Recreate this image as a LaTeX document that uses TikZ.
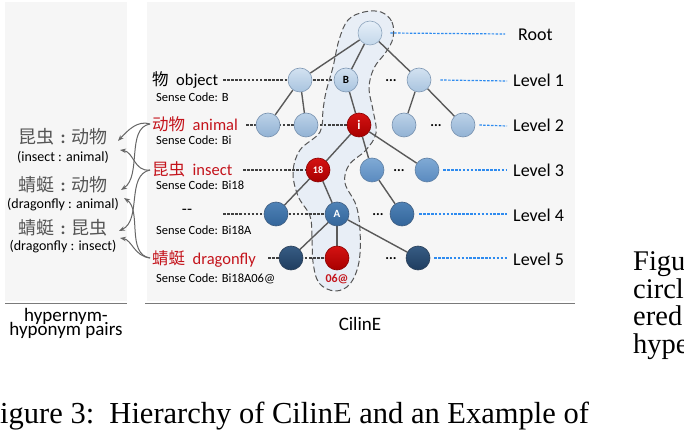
\documentclass[tikz,border=0pt]{standalone}
\usepackage{fontspec}
\setmainfont{Liberation Serif}
\newfontfamily\calfont{Carlito}
\newfontfamily\cjkfont{Noto Sans CJK SC}
\usetikzlibrary{arrows.meta}
\newcommand\fsz[1]{\fontsize{#1}{#1}\selectfont}
\pgfdeclarelayer{bgA}
\pgfdeclarelayer{bgB}
\pgfsetlayers{bgA,bgB,main}
\definecolor{panel}{HTML}{F6F6F6}
\definecolor{hl}{HTML}{E8EEF6}
\definecolor{hlline}{HTML}{555555}
\definecolor{edgec}{HTML}{5A5A5A}
\definecolor{dashk}{HTML}{404040}
\definecolor{dashb}{HTML}{2E8BEF}
\definecolor{redt}{HTML}{C4141C}
\definecolor{pairc}{HTML}{555555}
\definecolor{arrc}{HTML}{666666}
\definecolor{rulec}{HTML}{7A7A7A}
\definecolor{dA}{HTML}{8FA6BE}\definecolor{tA}{HTML}{E6EFF8}\definecolor{bA}{HTML}{C3D7EA}
\definecolor{dB}{HTML}{7F98B4}\definecolor{tB}{HTML}{D3E2F1}\definecolor{bB}{HTML}{A9C4DF}
\definecolor{dC}{HTML}{7690AE}\definecolor{tC}{HTML}{BCD2E8}\definecolor{bC}{HTML}{92B2D4}
\definecolor{dD}{HTML}{5E7FA3}\definecolor{tD}{HTML}{80AAD5}\definecolor{bD}{HTML}{5A8ABF}
\definecolor{dE}{HTML}{3D5C80}\definecolor{tE}{HTML}{4F82B6}\definecolor{bE}{HTML}{33659A}
\definecolor{dF}{HTML}{2A3F58}\definecolor{tF}{HTML}{375C84}\definecolor{bF}{HTML}{1F3D5F}
\definecolor{dR}{HTML}{8A0000}\definecolor{tR}{HTML}{D41212}\definecolor{bR}{HTML}{A80000}
\tikzset{
  tn/.style={circle, minimum size=24pt, inner sep=0pt, line width=0.6pt, font=\calfont\bfseries\fsz{11}},
  lvzero/.style={tn, draw=dA, top color=tA, bottom color=bA},
  lvone/.style={tn, draw=dB, top color=tB, bottom color=bB},
  lvtwo/.style={tn, draw=dC, top color=tC, bottom color=bC},
  lvthree/.style={tn, draw=dD, top color=tD, bottom color=bD},
  lvfour/.style={tn, draw=dE, top color=tE, bottom color=bE},
  lvfive/.style={tn, draw=dF, top color=tF, bottom color=bF},
  rednode/.style={tn, draw=dR, top color=tR, bottom color=bR, text=white},
  edge/.style={draw=edgec, line width=1.4pt},
  kdash/.style={draw=dashk, line width=1.1pt, dash pattern=on 2.5pt off 1.6pt},
  bdash/.style={draw=dashb, line width=1.2pt, dash pattern=on 2.5pt off 1.4pt},
  lab/.style={inner sep=0pt, font=\calfont\fsz{16.5}},
  sense/.style={inner sep=0pt, anchor=base west, font=\calfont\fsz{12.5}},
  lvl/.style={inner sep=0pt, anchor=base west, font=\calfont\fsz{18}},
  dots/.style={inner sep=0pt, font=\calfont\bfseries\fsz{14}},
  pairzh/.style={inner sep=0pt, text=pairc, font=\cjkfont\fsz{18}},
  pairen/.style={inner sep=0pt, text=black, font=\calfont\fsz{14}},
  parr/.style={draw=arrc, line width=1pt, -{Stealth[length=6pt,width=4.5pt]}},
  serif/.style={inner sep=0pt, anchor=base west, font=\rmfamily\fsz{28.5}}
}
\begin{document}
\begin{tikzpicture}[x=1pt,y=-1pt]
\useasboundingbox (0,0) rectangle (684,438);
\begin{pgfonlayer}{bgA}
\fill[white] (0,0) rectangle (684,438);
\fill[panel] (5,2) rectangle (127,301);
\fill[panel] (147,2) rectangle (575,301);
\draw[rulec, line width=1.6pt] (5,303.5) -- (127,303.5);
\draw[rulec, line width=1.6pt] (145,303.5) -- (575,303.5);
\draw[fill=hl, draw=hlline, line width=1pt, dash pattern=on 6pt off 3pt]
  plot[smooth cycle, tension=0.6] coordinates {(381,12) (392,22) (393,38) (386,52) (374,68) (369,88) (373,110) (376,133) (366,150) (349,165) (345,183) (356,205) (360,230) (359,262) (350,284) (335,291) (319,283) (313,262) (312,237) (310,216) (298,196) (293,172) (300,150) (320,132) (323,110) (326,92) (333,67) (339,40) (348,20) (364,12)};
\end{pgfonlayer}
% tree nodes
\node[lvzero] (root) at (370,33) {};
\node[lvone] (la) at (300,80) {};
\node[lvone] (lB) at (346,80) {B};
\node[lvone] (lc) at (419,80) {};
\node[lvtwo] (ma) at (268,125) {};
\node[lvtwo] (mb) at (306,125) {};
\node[rednode, font=\calfont\bfseries\fsz{13}] (mi) at (359,125) {i};
\node[lvtwo] (md) at (404,125) {};
\node[lvtwo] (me) at (463,125) {};
\node[rednode, font=\calfont\bfseries\fsz{10}] (n18) at (318,170) {18};
\node[lvthree] (nb) at (372,170) {};
\node[lvthree] (nc) at (427,170) {};
\node[lvfour] (oa) at (276,214) {};
\node[lvfour, text=white] (oA) at (337,214) {A};
\node[lvfour] (oc) at (402,214) {};
\node[lvfive] (pa) at (291,258) {};
\node[rednode] (pr) at (337,258) {};
\node[lvfive] (pc) at (418,258) {};
\node[inner sep=0pt, text=redt, font=\calfont\bfseries\fsz{12}] (code) at (337,279) {06@};
% dots
\node[dots] (d1) at (391,81) {...};
\node[dots] (d2) at (436,126) {...};
\node[dots] (d3) at (399,171) {...};
\node[dots] (d4) at (378,215) {...};
\node[dots] (d5) at (391,259) {...};
% left labels
\node[lab, anchor=base west] (t1) at (152,86) {{\cjkfont 物}\ \ object};
\node[lab, anchor=base west, text=redt] (t2) at (152,131) {{\cjkfont 动物}\ \ animal};
\node[lab, anchor=base west, text=redt] (t3) at (152,176) {{\cjkfont 昆虫}\ \ insect};
\node[lab] (t4) at (187,212) {-{}-};
\node[lab, anchor=base west, text=redt] (t5) at (152,264) {{\cjkfont 蜻蜓}\ \ dragonfly};
\node[sense] (s1) at (156,101.5) {Sense Code: B};
\node[sense] (s2) at (156,144.5) {Sense Code: Bi};
\node[sense] (s3) at (156,189.5) {Sense Code: Bi18};
\node[sense] (s4) at (156,234.5) {Sense Code: Bi18A};
\node[sense] (s5) at (156,282.5) {Sense Code: Bi18A06@};
\coordinate (k1) at (223,80);
\coordinate (k2) at (246,125);
\coordinate (k3) at (243,170);
\coordinate (k4) at (223,214);
\coordinate (k5) at (268,258);
% level labels
\node[lvl] (r0) at (518,41) {Root};
\node[lvl] (r1) at (513,87) {Level 1};
\node[lvl] (r2) at (513,132) {Level 2};
\node[lvl] (r3) at (513,177) {Level 3};
\node[lvl] (r4) at (513,221) {Level 4};
\node[lvl] (r5) at (513,265) {Level 5};
\coordinate (e0) at (505,34);
\coordinate (e1) at (507,81);
\coordinate (e2) at (507,126);
\coordinate (e3) at (507,170);
\coordinate (e4) at (507,214);
\coordinate (e5) at (507,258);
% left pairs
\node[pairzh] (p1) at (63,137) {昆虫\,\,{\calfont\bfseries :}\,\,动物};
\node[pairen] (q1) at (63,157) {(insect : animal)};
\node[pairzh] (p2) at (63,185) {蜻蜓\,\,{\calfont\bfseries :}\,\,动物};
\node[pairen] (q2) at (63,205) {(dragonfly : animal)};
\node[pairzh] (p3) at (63,228) {蜻蜓\,\,{\calfont\bfseries :}\,\,昆虫};
\node[pairen] (q3) at (63,247) {(dragonfly : insect)};
\coordinate (a1) at (118,141);
\coordinate (a2) at (120,150);
\coordinate (b1) at (121,190);
\coordinate (b2) at (124,198);
\coordinate (c1) at (119,231);
\coordinate (c2) at (120,238);
\coordinate (sA) at (150,124);
\coordinate (sI) at (150,170);
\coordinate (sD) at (150,258);
% captions
\node[inner sep=0pt, anchor=base, font=\calfont\fsz{19}] (h1) at (66,321) {hypernym-};
\node[inner sep=0pt, anchor=base, font=\calfont\fsz{19}] (h2) at (66,335) {hyponym pairs};
\node[inner sep=0pt, anchor=base, font=\calfont\fsz{19}] (cil) at (360,330) {CilinE};
\node[serif] (f1) at (633,270) {Figu};
\node[serif] (f2) at (633,298) {circl};
\node[serif] (f3) at (633,325) {ered};
\node[serif] (f4) at (633,353) {hype};
\node[inner sep=0pt, anchor=base west, font=\rmfamily\fsz{30.5}] (cap) at (0,423) {igure 3:\ \ Hierarchy of CilinE and an Example of};
% connectors behind nodes
\begin{pgfonlayer}{bgB}
\draw[kdash] (k1) -- (lB.west);
\draw[kdash] (k2) -- (mi.west);
\draw[kdash] (k3) -- (n18.west);
\draw[kdash] (k4) -- (oA.west);
\draw[kdash] (k5) -- (pr.west);
\draw[bdash] ([xshift=8pt]root.east) -- (e0);
\draw[bdash] ([xshift=9pt]lc.east) -- (e1);
\draw[bdash] ([xshift=4pt]me.east) -- (e2);
\draw[bdash] ([xshift=4pt]nc.east) -- (e3);
\draw[bdash] ([xshift=5pt]oc.east) -- (e4);
\draw[bdash] ([xshift=4pt]pc.east) -- (e5);
\draw[edge] (root) -- (la);
\draw[edge] (root) -- (lB);
\draw[edge] (root) -- (lc);
\draw[edge] (la) -- (ma);
\draw[edge] (la) -- (mb);
\draw[edge] (lB) -- (mi);
\draw[edge] (lc) -- (md);
\draw[edge] (lc) -- (me);
\draw[edge] (mi) -- (n18);
\draw[edge] (mi) -- (nb);
\draw[edge] (mi) -- (nc);
\draw[edge] (n18) -- (oa);
\draw[edge] (n18) -- (oA);
\draw[edge] (nb) -- (oc);
\draw[edge] (oA) -- (pa);
\draw[edge] (oA) -- (pr);
\draw[edge] (oA) -- (pc);
\end{pgfonlayer}
% hypernym arrows
\draw[parr] (sA) .. controls (138,120) and (128,130) .. (a1);
\draw[parr] (sA) .. controls (126,128) and (142,176) .. (b1);
\draw[parr] (sI) .. controls (134,172) and (134,152) .. (a2);
\draw[parr] (sI) .. controls (126,175) and (142,220) .. (c1);
\draw[parr] (sD) .. controls (126,254) and (142,210) .. (b2);
\draw[parr] (sD) .. controls (134,256) and (132,240) .. (c2);
\end{tikzpicture}
\end{document}
